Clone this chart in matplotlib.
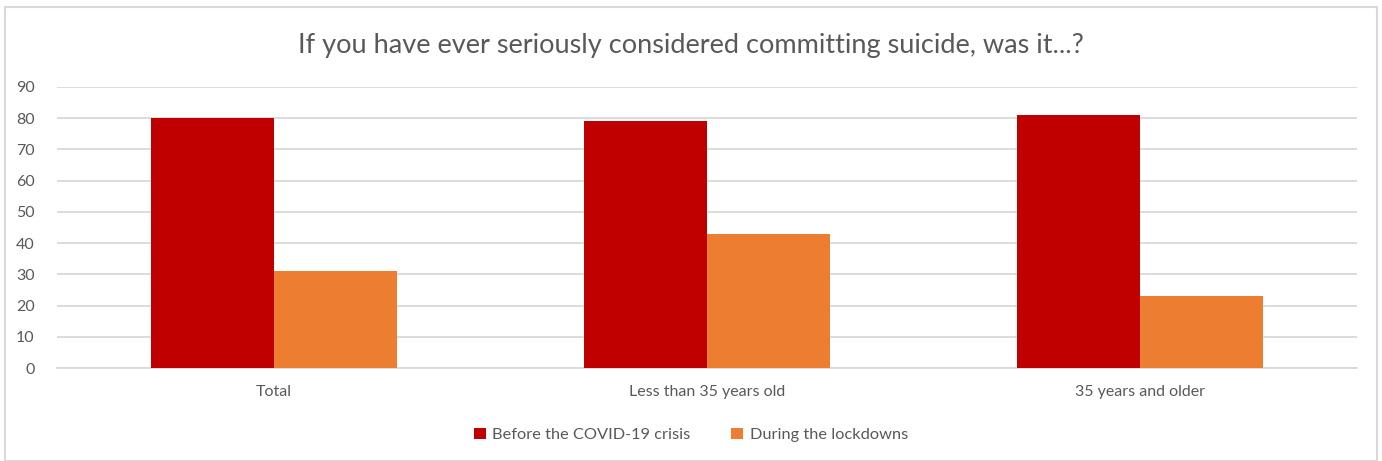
import numpy as np
import matplotlib.pyplot as plt
from matplotlib.patches import Rectangle

categories = ["Total", "Less than 35 years old", "35 years and older"]
before = [80, 79, 81]
during = [31, 43, 23]
series_names = ["Before the COVID-19 crisis", "During the lockdowns"]
yticks = [0, 10, 20, 30, 40, 50, 60, 70, 80, 90]

plt.rcParams['font.family'] = ['Lato', 'DejaVu Sans']
text_col = "#595959"
grid_col = "#d9d9d9"

fig = plt.figure(figsize=(13.82, 4.61), dpi=100)
ax = fig.add_axes([57/1382, 1 - 368/461, 1300/1382, 281/461])

x = np.arange(len(categories))
w = 0.284
ax.bar(x - w/2, before, w, color="#c00000", label=series_names[0], zorder=3)
ax.bar(x + w/2, during, w, color="#ed7d31", label=series_names[1], zorder=3)

ax.set_xlim(-0.5, len(categories) - 0.5)
ax.set_ylim(0, 90)
ax.set_yticks(yticks)
ax.yaxis.grid(True, color=grid_col, linewidth=1.3, zorder=0)
ax.set_axisbelow(True)
for s in ["top", "right", "left"]:
    ax.spines[s].set_visible(False)
ax.spines["bottom"].set_color(grid_col)
ax.spines["bottom"].set_linewidth(1.3)
ax.tick_params(length=0, labelsize=11.5, colors=text_col)
ax.tick_params(axis="y", pad=16)
ax.tick_params(axis="x", pad=12)
ax.set_xticks(x)
ax.set_xticklabels(categories)

fig.text(0.5, 1 - 45/461, "If you have ever seriously considered committing suicide, was it...?",
         ha="center", va="center", fontsize=19.5, color=text_col)

leg = fig.legend(loc="center", bbox_to_anchor=(0.5, 1 - 435/461), ncol=2, frameon=False,
                 fontsize=11.8, handlelength=0.7, handleheight=0.7, handletextpad=0.4,
                 columnspacing=2.5)
for t in leg.get_texts():
    t.set_color(text_col)

fig.patches.append(Rectangle((5/1382, 0), 1 - 10/1382, 1 - 7/461, transform=fig.transFigure,
                             fill=False, edgecolor=grid_col, linewidth=1.5))

fig.savefig("out.png", dpi=100)
